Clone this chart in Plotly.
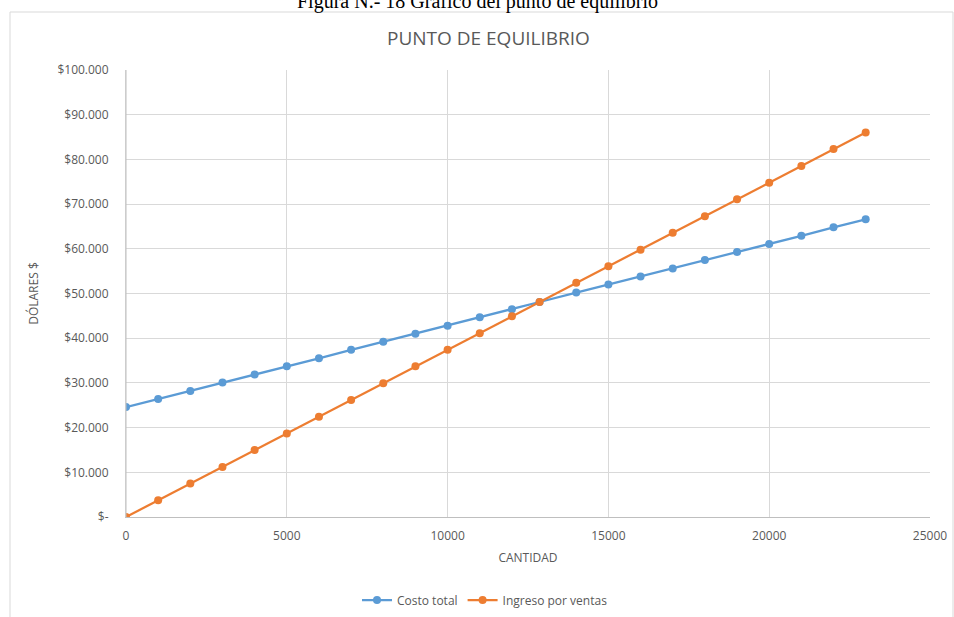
import plotly.graph_objects as go

cantidad = [0, 1000, 2000, 3000, 4000, 5000, 6000, 7000, 8000, 9000, 10000, 11000, 12000,
            12860, 14000, 15000, 16000, 17000, 18000, 19000, 20000, 21000, 22000, 23000]
costo_total = [24600, 26400, 28200, 30100, 31900, 33700, 35500, 37400, 39200, 41000, 42800,
               44700, 46500, 48100, 50200, 52000, 53800, 55600, 57500, 59300, 61100, 62900,
               64800, 66600]
ingreso_ventas = [0, 3740, 7480, 11200, 15000, 18700, 22400, 26200, 29900, 33700, 37400,
                  41100, 44900, 48100, 52400, 56100, 59800, 63600, 67300, 71100, 74800,
                  78500, 82300, 86000]

y_tickvals = [0, 10000, 20000, 30000, 40000, 50000, 60000, 70000, 80000, 90000, 100000]
y_ticktext = ["$-", "$10.000", "$20.000", "$30.000", "$40.000", "$50.000", "$60.000",
              "$70.000", "$80.000", "$90.000", "$100.000"]
x_tickvals = [0, 5000, 10000, 15000, 20000, 25000]
x_ticktext = ["0", "5000", "10000", "15000", "20000", "25000"]

FONT = "Open Sans"
GRAY = "#595959"

fig = go.Figure()
fig.add_trace(go.Scatter(x=cantidad, y=costo_total, mode="lines+markers", name="Costo total",
                         line=dict(color="#5B9BD5", width=2.25),
                         marker=dict(color="#5B9BD5", size=8)))
fig.add_trace(go.Scatter(x=cantidad, y=ingreso_ventas, mode="lines+markers", name="Ingreso por ventas",
                         line=dict(color="#ED7D31", width=2.25),
                         marker=dict(color="#ED7D31", size=8)))

L, R, T, B = 126, 954 - 930, 70, 617 - 517
W, H = 954, 617
pw, ph = W - L - R, H - T - B

def px_x(p):
    return (p - L) / pw

def px_y(p):
    return (H - B - p) / ph

fig.update_layout(
    width=W, height=H,
    margin=dict(l=L, r=R, t=T, b=B, pad=0, autoexpand=False),
    paper_bgcolor="white", plot_bgcolor="white",
    font=dict(family=FONT, color=GRAY, size=12),
    showlegend=True,
    legend=dict(orientation="h", x=px_x(485), xanchor="center", y=px_y(600), yanchor="middle",
                font=dict(size=12, color=GRAY), itemwidth=30, bgcolor="rgba(0,0,0,0)"),
    xaxis=dict(range=[0, 25000], tickvals=x_tickvals, ticktext=x_ticktext,
               showgrid=True, gridcolor="#d9d9d9", gridwidth=1, automargin=False,
               showline=True, linecolor="#bfbfbf", linewidth=1, zeroline=False,
               ticks="", ticklabelstandoff=8,
               title=dict(text="CANTIDAD", font=dict(size=12, color=GRAY), standoff=10)),
    yaxis=dict(range=[0, 100000], tickvals=y_tickvals, ticktext=y_ticktext,
               showgrid=True, gridcolor="#d9d9d9", gridwidth=1, automargin=False,
               showline=True, linecolor="#d9d9d9", linewidth=1, zeroline=False,
               ticks="", ticklabelstandoff=14,
               title=dict(text="DÓLARES $", font=dict(size=12, color=GRAY), standoff=16)),
    shapes=[dict(type="rect", xref="paper", yref="paper",
                 x0=px_x(10), x1=px_x(953), y0=px_y(640), y1=px_y(12),
                 line=dict(color="#d9d9d9", width=1), fillcolor="rgba(0,0,0,0)", layer="below")],
    annotations=[
        dict(text="PUNTO DE EQUILIBRIO", xref="paper", yref="paper",
             x=px_x(488), y=px_y(38), xanchor="center", yanchor="middle", showarrow=False,
             font=dict(size=19, color=GRAY, family=FONT)),
        dict(text="Figura N.- 18 Gráfico del punto de equilibrio", xref="paper", yref="paper",
             x=px_x(477), y=px_y(1.5), xanchor="center", yanchor="middle", showarrow=False,
             font=dict(size=20, color="black", family="Liberation Serif")),
    ],
)
fig.add_shape(type="line", xref="paper", yref="paper", x0=0, x1=0,
              y0=0, y1=1, line=dict(color="#bfbfbf", width=1))

fig.write_html("out.html")
